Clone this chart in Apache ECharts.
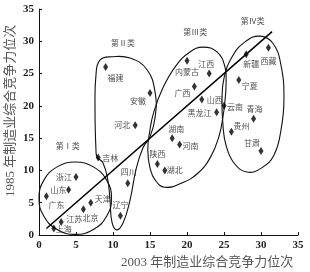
<!DOCTYPE html>
<html><head><meta charset="utf-8">
<script src="https://cdn.jsdelivr.net/npm/echarts@6/dist/echarts.min.js"></script>
<style>html,body{margin:0;padding:0;background:#fff}#c{width:310px;height:272px}</style>
</head><body><div id="c"></div>
<script>
// provinces: [2003 rank, 1985 rank]
var provinces = ['广东','山东','浙江','吉林','上海','江苏','北京','天津','辽宁','四川','河北','安徽','福建','陕西','湖北','湖南','河南','内蒙古','江西','广西','山西','黑龙江','云南','宁夏','新疆','西藏','青海','贵州','甘肃'];
var rank2003 = [1,4,5,8,2,3,6,7,11,12,13,15,9,16,17,18,19,20,23,21,22,24,25,27,28,31,29,26,30];
var rank1985 = [6,7,9,12,1,2,4,5,3,8,17,22,26,11,10,15,14,27,25,23,21,19,20,24,28,29,18,16,13];
var xTicks = [0,5,10,15,20,25,30,35];
var yTicks = [0,5,10,15,20,25,30,35];
var trendX = [1, 31.5];
var trendY = [1, 31.5];
var classNames = ['第Ⅰ类','第Ⅱ类','第Ⅲ类','第Ⅳ类'];
var classX = [3.9, 11.35, 21.1, 28.9];
var classY = [13.8, 29.8, 31.5, 33.2];
// hand-drawn group outlines (data coordinates)
var outline1 = [[9.8,5.7],[9.14,8.5],[7.35,10.55],[4.9,11.3],[2.45,10.55],[0.66,8.5],[0,5.7],[0.66,2.9],[2.45,0.85],[4.9,0.1],[7.35,0.85],[9.14,2.9]];
var outline2 = [[7.7,13.15],[7.57,19.35],[7.7,24.8],[8.24,27.1],[9.86,27.6],[12.3,27.4],[14.6,25.6],[15.7,22.0],[15.7,18.3],[15.0,15.2],[14.05,13.5],[13.1,10.1],[12.3,5.4],[11.35,1.86],[10.5,0.8],[9.86,2.0],[9.6,5.4],[9.3,8.5],[8.65,11.15],[7.84,12.1]];
var outline3 = [[22.16,29.1],[24.05,28.35],[25.14,26.0],[25.27,23.2],[25.14,20.9],[24.86,18.3],[24.3,15.2],[23.2,12.1],[21.5,9.6],[19.3,8.05],[17.0,7.4],[15.7,8.5],[15.0,10.4],[14.7,13.2],[15.0,16.3],[15.5,19.0],[16.75,22.8],[18.5,26.2],[20.4,28.35]];
var outline4 = [[29.86,30.8],[31.6,29.7],[32.7,26.3],[33.1,20.9],[32.7,16.25],[31.76,12.4],[30.1,10.4],[28.1,9.75],[26.35,11.15],[25.27,13.9],[24.86,17.0],[24.73,20.9],[25.0,24.3],[26.1,27.6],[27.84,29.9]];

// label placement (pixels relative to point)
var labelOffset = {'广东':[10,9],'山东':[-10,0],'浙江':[-12,0],'吉林':[12,0],'上海':[10,0],'江苏':[13,-3],'北京':[7,9],'天津':[12,-4],'辽宁':[0,-11],'四川':[1,-11],'河北':[-13,0],'安徽':[-12,8],'福建':[10,11],'陕西':[0,-10],'湖北':[10,0],'湖南':[4,-9],'河南':[11,1],'内蒙古':[0,11],'江西':[-3,-10],'广西':[-12,6],'山西':[13,1],'黑龙江':[-17,1],'云南':[11,1],'宁夏':[11,6],'新疆':[5,10],'西藏':[0,13],'青海':[1,-10],'贵州':[10,-6],'甘肃':[-9,-8]};

var pts = provinces.map(function(n,i){
  return {name:n, value:[rank2003[i], rank1985[i]],
    label:{show:true, position:'inside', offset:labelOffset[n], formatter:n}};
});

function outlineSeries(o){
  return {type:'custom', coordinateSystem:'cartesian2d', silent:true, clip:false, z:1,
    data:[o[0]],
    renderItem:function(params, api){
      var p = o.map(function(d){return api.coord(d);});
      return {type:'polygon', shape:{points:p, smooth:0.45}, style:{fill:null, stroke:'#111', lineWidth:1.1}};
    }};
}

var serif = 'Liberation Serif, Noto Sans CJK SC';
var chart = echarts.init(document.getElementById('c'), null, {renderer:'canvas'});
chart.setOption({
  animation:false,
  backgroundColor:'#fff',
  grid:{left:39, right:12, top:9, bottom:37, containLabel:false},
  xAxis:{type:'value', min:0, max:35, interval:5,
    axisLine:{show:true, onZero:false, lineStyle:{color:'#111', width:1}},
    axisTick:{show:true, inside:true, length:3, lineStyle:{color:'#111'}},
    axisLabel:{color:'#222', fontFamily:serif, fontWeight:'bold', fontSize:11, margin:5,
      customValues: xTicks},
    splitLine:{show:false}},
  yAxis:{type:'value', min:0, max:35, interval:5,
    axisLine:{show:true, onZero:false, lineStyle:{color:'#111', width:1}},
    axisTick:{show:true, inside:true, length:3, lineStyle:{color:'#111'}},
    axisLabel:{color:'#222', fontFamily:serif, fontWeight:'bold', fontSize:11, margin:5},
    splitLine:{show:false}},
  graphic:[
    {type:'text', left:121, top:256, style:{text:'2003 年制造业综合竞争力位次', fill:'#555', font:'13px Liberation Serif, Noto Sans CJK SC'}},
    {type:'text', x:4, y:197, rotation:Math.PI/2, style:{text:'1985 年制造业综合竞争力位次', fill:'#555', font:'13px Liberation Serif, Noto Sans CJK SC', verticalAlign:'top'}}
  ],
  series:[
    outlineSeries(outline1), outlineSeries(outline2), outlineSeries(outline3), outlineSeries(outline4),
    {type:'line', data:[[trendX[0],trendY[0]],[trendX[1],trendY[1]]], symbol:'none', silent:true,
      lineStyle:{color:'#000', width:1.5}, z:2},
    {type:'scatter', data:pts, symbol:'diamond', symbolSize:[5,8], itemStyle:{color:'#000'}, z:3,
      label:{fontSize:8, color:'#222', fontFamily:'Noto Sans CJK SC'}},
    {type:'scatter', data:classNames.map(function(n,i){return {name:n, value:[classX[i], classY[i]]};}),
      symbolSize:0, silent:true, z:3,
      label:{show:true, position:'inside', formatter:'{b}', fontSize:8, color:'#222', fontFamily:'Noto Sans CJK SC'}}
  ]
});
</script></body></html>
